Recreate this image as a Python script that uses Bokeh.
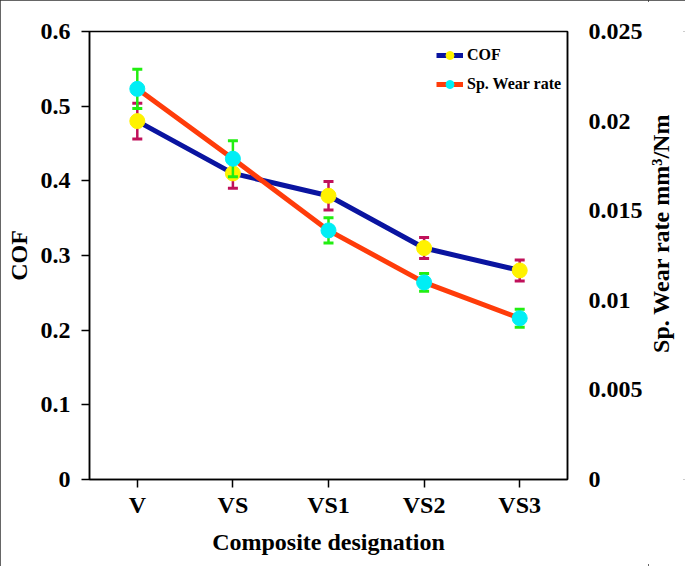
import math
from bokeh.plotting import figure
from bokeh.layouts import row
from bokeh.models import Range1d, LinearAxis, FixedTicker, CustomJSTickFormatter, Legend, LegendItem, ColumnDataSource, Label
from bokeh.embed import file_html
from bokeh.resources import INLINE

categories = ["V", "VS", "VS1", "VS2", "VS3"]
cof = [0.48, 0.41, 0.38, 0.31, 0.28]
cof_err = [0.024, 0.02, 0.019, 0.014, 0.014]
wear = [0.0218, 0.0179, 0.0139, 0.0110, 0.0090]
wear_err = [0.0011, 0.0010, 0.0007, 0.0005, 0.0005]
cof_ticks = [0, 0.1, 0.2, 0.3, 0.4, 0.5, 0.6]
wear_ticks = [0, 0.005, 0.01, 0.015, 0.02, 0.025]

FONT = "Liberation Serif"

p = figure(width=648, height=566, x_range=categories, y_range=Range1d(0, 0.6),
           output_backend="svg", toolbar_location=None,
           min_border_left=89, min_border_right=81, min_border_top=31, min_border_bottom=87)
p.extra_y_ranges = {"wear": Range1d(0, 0.025)}
p.xgrid.visible = False
p.ygrid.visible = False
p.outline_line_color = "black"
p.outline_line_width = 1.5

fmt = CustomJSTickFormatter(code="return tick.toString();")

# left axis
ya = p.yaxis[0]
ya.ticker = FixedTicker(ticks=cof_ticks)
ya.formatter = fmt
ya.axis_label = "COF"
ya.minor_tick_line_color = None
ya.major_tick_in = 0
ya.major_tick_out = 8
ya.major_tick_line_width = 1.5
ya.axis_line_width = 1.5

# right axis
ra = LinearAxis(y_range_name="wear", ticker=FixedTicker(ticks=wear_ticks), formatter=fmt)
ra.minor_tick_line_color = None
ra.major_tick_in = 0
ra.major_tick_out = 0
ra.axis_line_width = 1.5
p.add_layout(ra, "right")

xa = p.xaxis[0]
xa.axis_label = "Composite designation"
xa.major_tick_in = 0
xa.major_tick_out = 8
xa.major_tick_line_width = 1.5
xa.axis_line_width = 1.5

for ax in [xa, ya, ra]:
    ax.major_label_text_font = FONT
    ax.major_label_text_font_style = "bold"
    ax.major_label_text_font_size = "24px"
    ax.major_label_text_color = "black"
    ax.axis_label_text_font = FONT
    ax.axis_label_text_font_style = "bold"
    ax.axis_label_text_font_size = "24px"
    ax.axis_label_text_color = "black"
    ax.axis_line_color = "black"
    ax.major_tick_line_color = "black"
ya.major_label_standoff = 11
ya.axis_label_standoff = 6
ra.major_label_standoff = 21
xa.major_label_standoff = 4
xa.axis_label_standoff = 8

src_c = ColumnDataSource(dict(x=categories, y=cof,
                              lo=[v - e for v, e in zip(cof, cof_err)],
                              hi=[v + e for v, e in zip(cof, cof_err)]))
src_w = ColumnDataSource(dict(x=categories, y=wear,
                              lo=[v - e for v, e in zip(wear, wear_err)],
                              hi=[v + e for v, e in zip(wear, wear_err)]))

# COF series
l1 = p.line("x", "y", source=src_c, line_color="#0A14A0", line_width=5)
p.segment(x0="x", y0="lo", x1="x", y1="hi", source=src_c, line_color="#C0105A", line_width=2.5)
p.scatter("x", "lo", source=src_c, marker="dash", size=10, line_color="#C0105A", line_width=3)
p.scatter("x", "hi", source=src_c, marker="dash", size=10, line_color="#C0105A", line_width=3)
c1 = p.scatter("x", "y", source=src_c, size=15, fill_color="#FFF200", line_color="#FFF200")

# Wear series
l2 = p.line("x", "y", source=src_w, y_range_name="wear", line_color="#FF3C0A", line_width=5)
p.segment(x0="x", y0="lo", x1="x", y1="hi", source=src_w, y_range_name="wear", line_color="#22EE11", line_width=2.5)
p.scatter("x", "lo", source=src_w, y_range_name="wear", marker="dash", size=10, line_color="#22EE11", line_width=3)
p.scatter("x", "hi", source=src_w, y_range_name="wear", marker="dash", size=10, line_color="#22EE11", line_width=3)
c2 = p.scatter("x", "y", source=src_w, y_range_name="wear", size=15, fill_color="#00EEF5", line_color="#00EEF5")

legend = Legend(items=[LegendItem(label="COF", renderers=[l1, c1]),
                       LegendItem(label="Sp. Wear rate", renderers=[l2, c2])],
                location=(347, 385))
legend.border_line_color = None
legend.background_fill_alpha = 0
legend.label_text_font = FONT
legend.label_text_font_style = "bold"
legend.label_text_font_size = "16px"
legend.label_text_color = "black"
legend.glyph_width = 27
legend.glyph_height = 20
legend.label_height = 20
legend.label_standoff = 4
legend.spacing = 9
legend.margin = 0
legend.padding = 5
p.add_layout(legend)

# narrow strip holding the right axis title, reading bottom to top
p2 = figure(width=37, height=566, x_range=Range1d(0, 37), y_range=Range1d(0, 566),
            x_axis_location=None, y_axis_location=None, min_border=0,
            output_backend="svg", toolbar_location=None)
p2.outline_line_color = None
p2.grid.visible = False
right_title = Label(x=12, y=311, text="Sp. Wear rate mm\u00b3/Nm", angle=math.pi / 2,
                    text_align="center", text_baseline="middle",
                    text_font=FONT, text_font_style="bold", text_font_size="24px",
                    text_color="black")
p2.add_layout(right_title)

layout = row(p, p2, spacing=0)
layout.styles = {"outline": "2px solid #333", "outline-offset": "-2px"}

open("out.html", "w").write(file_html(layout, INLINE))
